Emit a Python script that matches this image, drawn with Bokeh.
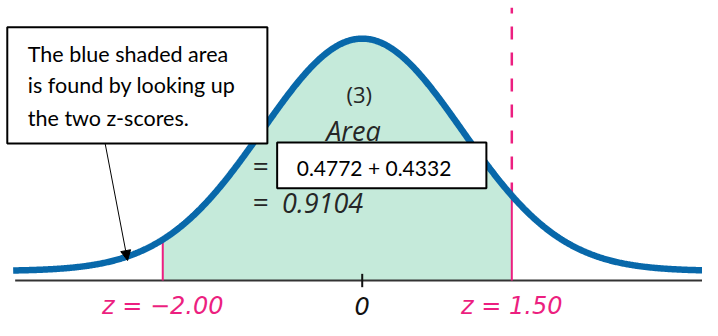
import numpy as np
from bokeh.plotting import figure
from bokeh.models import Range1d, Arrow, NormalHead
from bokeh.core.properties import value
from bokeh.embed import file_html
from bokeh.resources import INLINE

# --- data -------------------------------------------------------------
z_lower = -2.00
z_upper = 1.50
area_lower = 0.4772
area_upper = 0.4332
area_total = 0.9104
tick_values = [0]
label_texts = ["z = \u22122.00", "0", "z = 1.50"]
label_z = [z_lower, 0, z_upper]
callout_lines = ["The blue shaded area", "is found by looking up", "the two z-scores."]

# standard normal curve
z = np.linspace(-3.5, 3.5, 700)
pdf = np.exp(-z ** 2 / 2) / np.sqrt(2 * np.pi)

def npdf(v):
    return float(np.exp(-v ** 2 / 2) / np.sqrt(2 * np.pi))

BLUE = "#0868aa"
GREEN = "#c5eada"
PINK = "#ec1f80"
INK = "#262626"

AXIS_Y = -0.0164

p = figure(width=702, height=320, output_backend="svg", toolbar_location=None,
           x_range=Range1d(-3.627, 3.412), y_range=Range1d(-0.0850, 0.4644),
           min_border=0)
p.axis.visible = False
p.grid.visible = False
p.outline_line_color = None
p.background_fill_color = "white"
p.border_fill_color = "white"

# shaded area
mask = (z >= z_lower) & (z <= z_upper)
p.varea(x=z[mask], y1=np.full(mask.sum(), AXIS_Y), y2=pdf[mask], fill_color=GREEN)

# axis line and tick
p.segment(x0=[-3.48], y0=[AXIS_Y], x1=[3.5], y1=[AXIS_Y], line_color="#333333", line_width=2)
p.segment(x0=tick_values, y0=[-0.0049], x1=tick_values, y1=[-0.0278], line_color="#111111", line_width=2)

# pink boundary lines
p.segment(x0=[z_lower, z_upper], y0=[AXIS_Y, AXIS_Y], x1=[z_lower, z_upper],
          y1=[npdf(z_lower), npdf(z_upper)], line_color=PINK, line_width=2)
p.segment(x0=[z_upper], y0=[npdf(z_upper)], x1=[z_upper], y1=[0.452],
          line_color=PINK, line_width=2.5, line_dash="13 13")

# curve
p.line(z, pdf, line_color=BLUE, line_width=6.5)

# sum box
p.quad(left=[-0.853], right=[1.245], bottom=[0.1422], top=[0.2207],
       fill_color="white", line_color="black", line_width=2)
p.text(x=[-0.657], y=[0.1774], text=[f"{area_lower} + {area_upper}"], text_color="black",
       text_font=value("Lato"), text_font_size="21px",
       text_align="left", text_baseline="middle")

# callout box with arrow
p.quad(left=[-3.559], right=[-0.951], bottom=[0.2191], top=[0.4186],
       fill_color="white", line_color="black", line_width=2)
p.text(x=[-3.353] * 3, y=[0.3728, 0.3188, 0.2632], text=callout_lines, text_color="black",
       text_font=value("Lato"), text_font_size="21.5px",
       text_align="left", text_baseline="middle")
p.add_layout(Arrow(end=NormalHead(size=10, fill_color="black", line_color="black"),
                   x_start=-2.578, y_start=0.2191, x_end=-2.353, y_end=0.018,
                   line_color="black", line_width=1))

# annotation texts inside area
p.text(x=[-0.03], y=[0.3041], text=["(3)"], text_color=INK,
       text_font=value("Open Sans"), text_font_size="22px",
       text_align="center", text_baseline="middle")
p.text(x=[-0.088], y=[0.2420], text=["Area"], text_color=INK,
       text_font=value("Open Sans"), text_font_style="italic", text_font_size="27px",
       text_align="center", text_baseline="middle")
p.text(x=[-1.098, -1.098], y=[0.1815, 0.1194], text=["=", "="], text_color=INK,
       text_font=value("Open Sans"), text_font_size="28px",
       text_align="left", text_baseline="middle")
p.text(x=[-0.804], y=[0.1169], text=[f"{area_total:.4f}"], text_color=INK,
       text_font=value("Open Sans"), text_font_style="italic", text_font_size="27px",
       text_align="left", text_baseline="middle")

# axis labels
p.text(x=label_z[:1] + label_z[2:], y=[-0.0595, -0.0595],
       text=[label_texts[0], label_texts[2]], text_color=PINK,
       text_font=value("DejaVu Sans"), text_font_style="italic", text_font_size="24px",
       text_align="center", text_baseline="middle")
p.text(x=[label_z[1]], y=[-0.0595], text=[label_texts[1]], text_color="#111111",
       text_font=value("DejaVu Sans"), text_font_style="italic", text_font_size="24px",
       text_align="center", text_baseline="middle")

open("out.html", "w").write(file_html(p, INLINE))
